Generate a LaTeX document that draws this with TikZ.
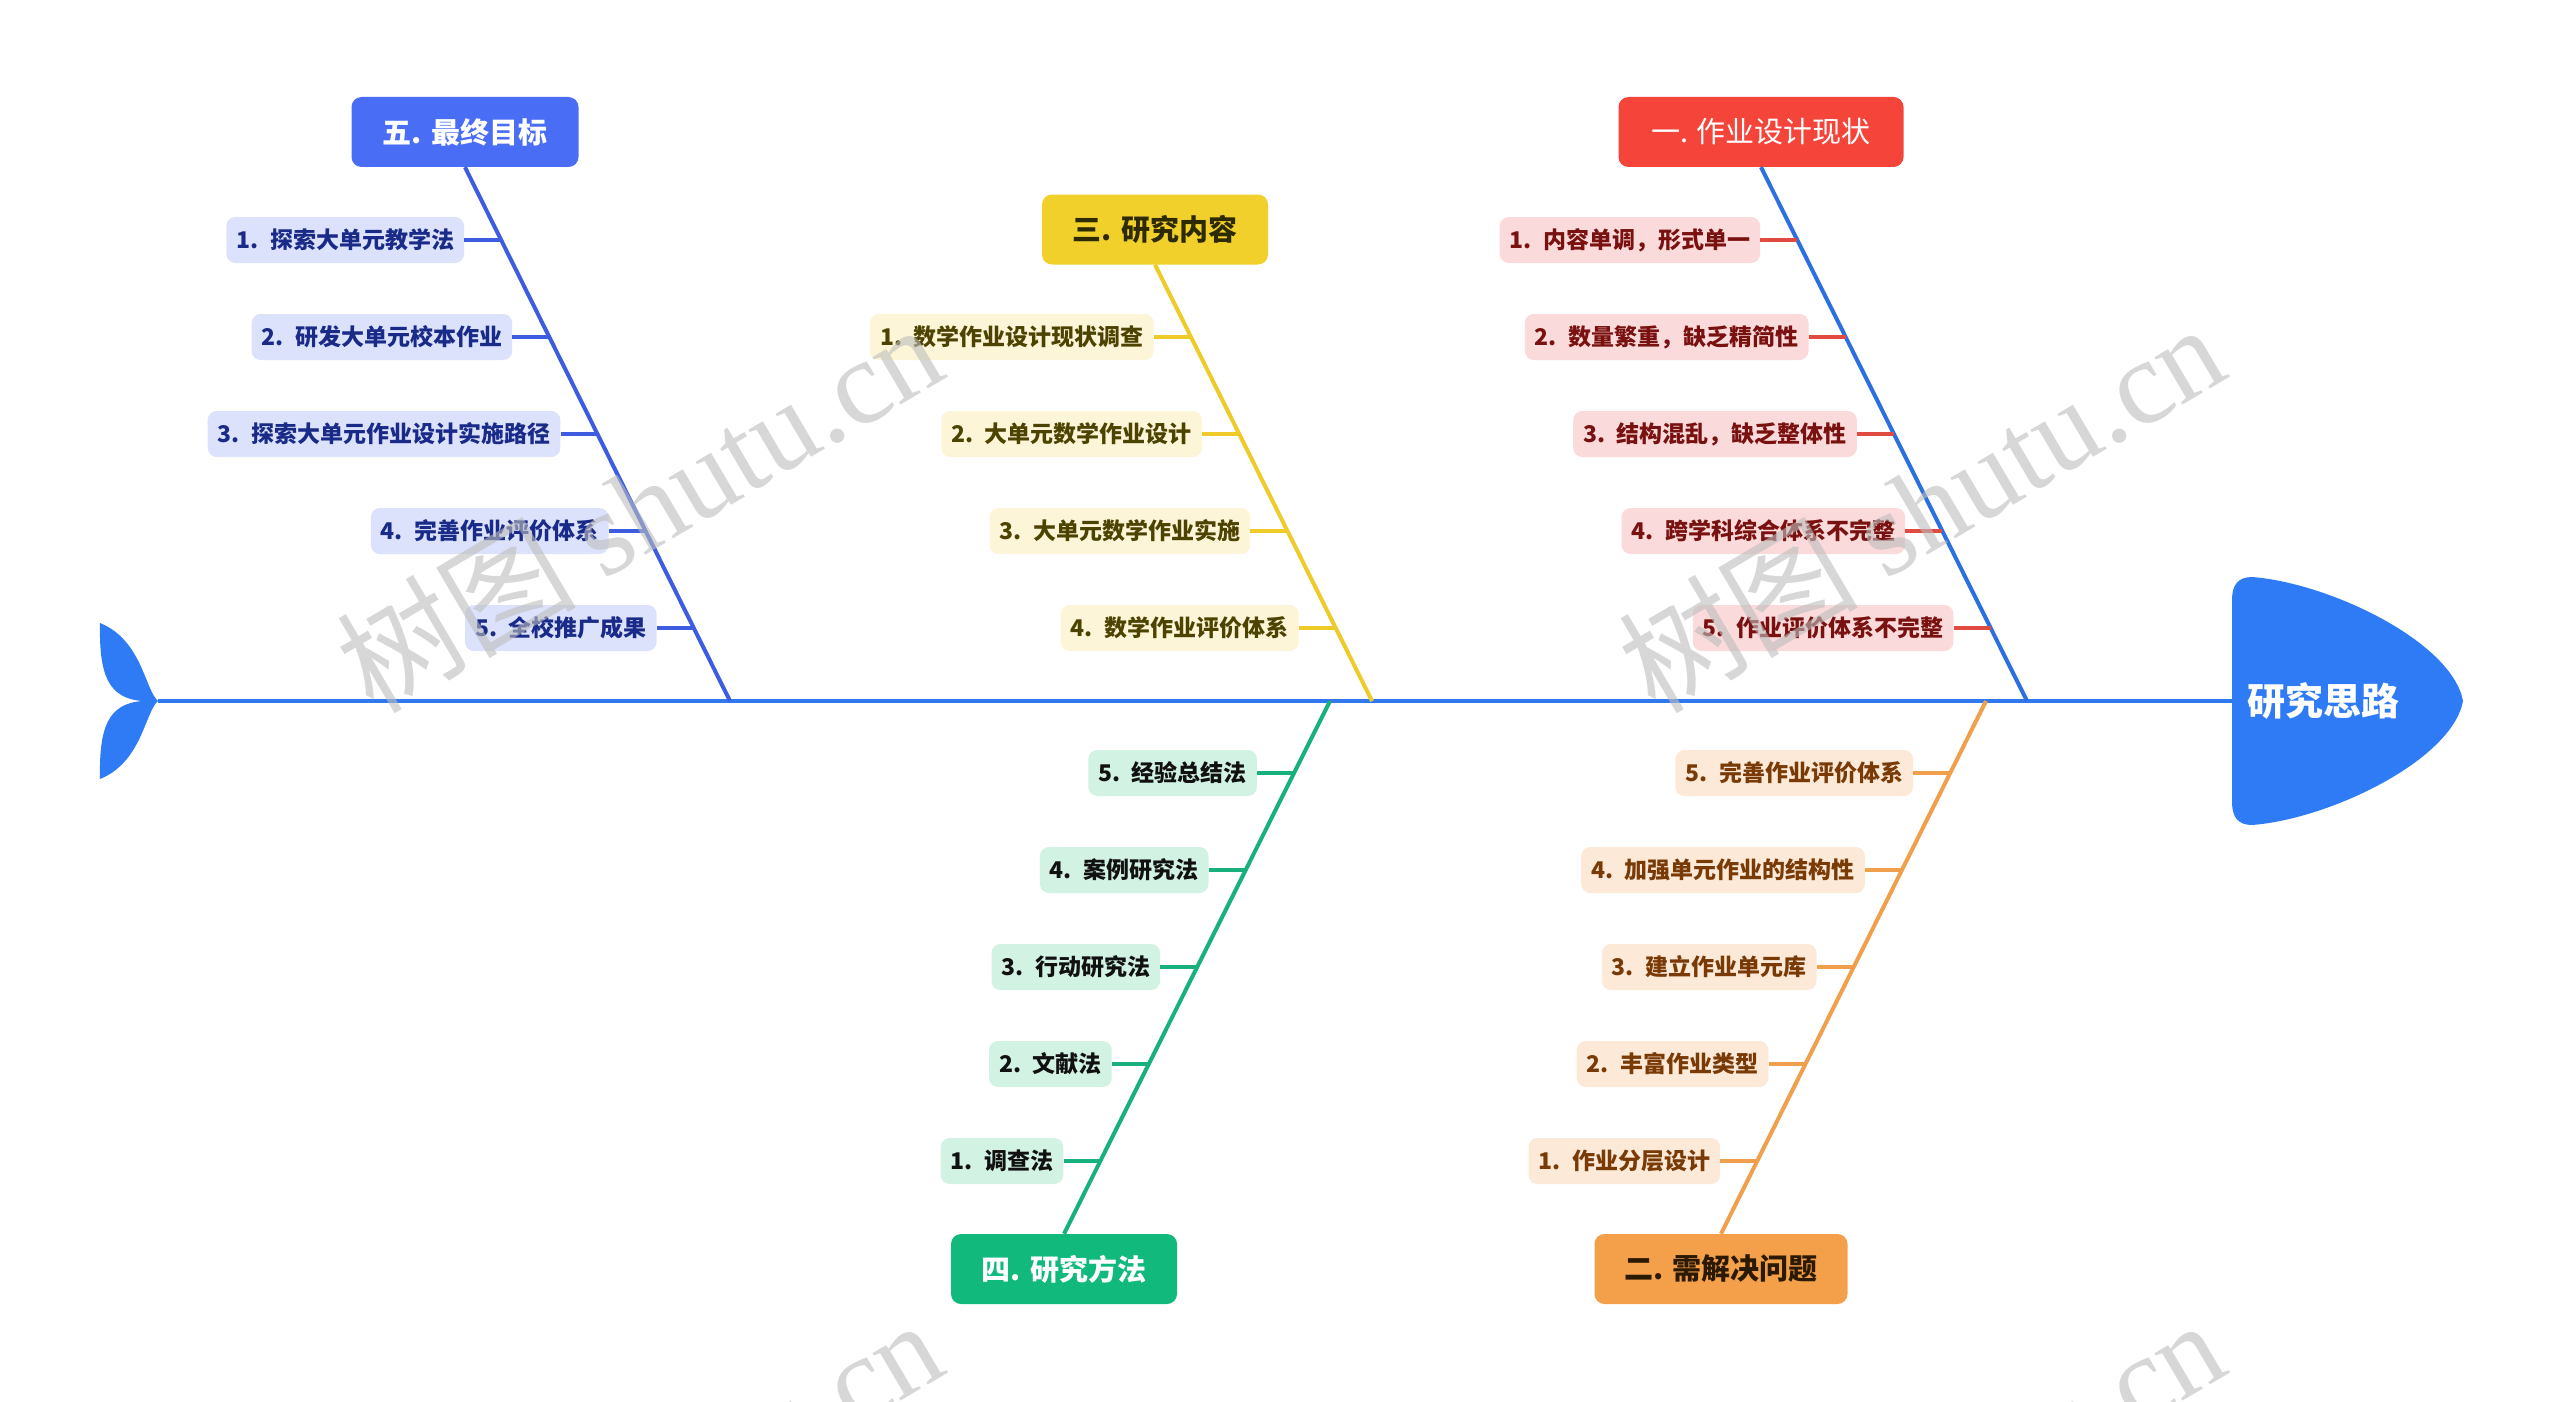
\documentclass[tikz,border=0pt]{standalone}
\usepackage{fontspec}
\setmainfont{Noto Sans CJK SC}
\newfontfamily\wmlatin{Liberation Serif}
\usetikzlibrary{calc}
\definecolor{spinec}{HTML}{2F78EE}
\definecolor{headc}{HTML}{2F7BF5}
\definecolor{blbox}{HTML}{4A6DF6}
\definecolor{blline}{HTML}{3D5CE0}
\definecolor{blsub}{HTML}{DCE2FB}
\definecolor{bltext}{HTML}{1A2A88}
\definecolor{yebox}{HTML}{F1D02B}
\definecolor{yeline}{HTML}{EFCB2A}
\definecolor{yesub}{HTML}{FCF5D8}
\definecolor{yetext}{HTML}{4D4300}
\definecolor{yemtext}{HTML}{2E2A00}
\definecolor{rdbox}{HTML}{F5453B}
\definecolor{rdline}{HTML}{2C6FE0}
\definecolor{rdstubc}{HTML}{E04A40}
\definecolor{rdsub}{HTML}{FADADA}
\definecolor{rdtext}{HTML}{7A1111}
\definecolor{grbox}{HTML}{12B97D}
\definecolor{grline}{HTML}{18B07C}
\definecolor{grsub}{HTML}{D2F2E4}
\definecolor{grtext}{HTML}{111111}
\definecolor{orbox}{HTML}{F4A04A}
\definecolor{orline}{HTML}{F0A04C}
\definecolor{orsub}{HTML}{FCE9D7}
\definecolor{ortext}{HTML}{7A3A06}
\definecolor{ormtext}{HTML}{2B1A00}
\definecolor{wmc}{HTML}{BDBDBD}
\tikzset{
  sub/.style={rounded corners=9pt, inner xsep=10pt, inner ysep=0pt, minimum height=46pt,
    font=\fontsize{23}{28}\selectfont\bfseries},
  mainbox/.style={rounded corners=10pt, inner sep=0pt, minimum height=70pt,
    font=\fontsize{29}{34}\selectfont\bfseries},
  bone/.style={line width=4pt},
  stub/.style={line width=3.5pt},
  blitem/.style={sub, fill=blsub, text=bltext}, blstub/.style={stub, draw=blline},
  yeitem/.style={sub, fill=yesub, text=yetext}, yestub/.style={stub, draw=yeline},
  rditem/.style={sub, fill=rdsub, text=rdtext}, rdstub/.style={stub, draw=rdstubc},
  gritem/.style={sub, fill=grsub, text=grtext}, grstub/.style={stub, draw=grline},
  oritem/.style={sub, fill=orsub, text=ortext}, orstub/.style={stub, draw=orline},
  wm/.style={text=wmc, opacity=0.6, inner sep=0pt, anchor=base west, rotate=30.5,
    font=\fontsize{120}{120}\selectfont},
}
\newcommand\fbitem[6]{%
  \node[#5item, anchor=east] (#1) at (#2,#3) {#6};
  \coordinate (#1d) at (#4,#3);
  \draw[#5stub] (#1.east) -- (#1d);
}
\begin{document}
\begin{tikzpicture}[x=1pt, y=-1pt]
\useasboundingbox (0,0) rectangle (2560,1402);
\clip (0,0) rectangle (2560,1402);
\fill[white] (0,0) rectangle (2560,1402);

% tail and head
\coordinate (tailJ) at (158,701);
\coordinate (headL) at (2232,701);
\fill[headc] (158,701) .. controls (145,690) and (142,640) .. (100,623)
  .. controls (99,675) and (108,698) .. (142,701)
  .. controls (108,704) and (99,727) .. (100,779)
  .. controls (142,762) and (145,712) .. (158,701) -- cycle;
\fill[headc] (2232,600) .. controls (2232,585) and (2238,577) .. (2252,577)
  .. controls (2330,583) and (2452,642) .. (2463,701)
  .. controls (2452,760) and (2330,819) .. (2252,825)
  .. controls (2238,825) and (2232,817) .. (2232,802) -- cycle;
\draw[bone, draw=spinec] (tailJ) -- (headL);
\node[text=white, font=\fontsize{38}{44}\selectfont\bfseries, inner sep=0pt] (head) at (2323,701) {研究思路};

% feet on the spine
\coordinate (f5) at (730,701);
\coordinate (f3) at (1372,701);
\coordinate (f1) at (2027,701);
\coordinate (f4) at (1330,701);
\coordinate (f2) at (1986,701);

% main boxes
\node[mainbox, fill=blbox, text=white, minimum width=227pt] (m5) at (465,132) {五. 最终目标};
\node[mainbox, fill=yebox, text=yemtext, minimum width=226pt] (m3) at (1155,229.5) {三. 研究内容};
\node[mainbox, fill=rdbox, text=white, minimum width=285pt, font=\fontsize{29}{34}\selectfont\mdseries] (m1) at (1761,132) {一. 作业设计现状};
\node[mainbox, fill=grbox, text=white, minimum width=226pt] (m4) at (1064,1269) {四. 研究方法};
\node[mainbox, fill=orbox, text=ormtext, minimum width=253pt] (m2) at (1721,1269) {二. 需解决问题};

% bones
\draw[bone, draw=blline] (m5.south) -- (f5);
\draw[bone, draw=yeline] (m3.south) -- (f3);
\draw[bone, draw=rdline] (m1.south) -- (f1);
\draw[bone, draw=grline] (m4.north) -- (f4);
\draw[bone, draw=orline] (m2.north) -- (f2);

% items: group 5 (blue)
\fbitem{b1}{464.2}{240}{501.2}{bl}{1.\hspace{0.5em}探索大单元教学法}
\fbitem{b2}{512.4}{337}{549.4}{bl}{2.\hspace{0.5em}研发大单元校本作业}
\fbitem{b3}{560.5}{434}{597.5}{bl}{3.\hspace{0.5em}探索大单元作业设计实施路径}
\fbitem{b4}{608.7}{531}{645.7}{bl}{4.\hspace{0.5em}完善作业评价体系}
\fbitem{b5}{656.8}{628}{693.8}{bl}{5.\hspace{0.5em}全校推广成果}
% group 3 (yellow)
\fbitem{y1}{1153.8}{337}{1190.8}{ye}{1.\hspace{0.5em}数学作业设计现状调查\hspace{13pt}}
\fbitem{y2}{1202.1}{434}{1239.1}{ye}{2.\hspace{0.5em}大单元数学作业设计}
\fbitem{y3}{1250.4}{531}{1287.4}{ye}{3.\hspace{0.5em}大单元数学作业实施}
\fbitem{y4}{1298.7}{628}{1335.7}{ye}{4.\hspace{0.5em}数学作业评价体系}
% group 1 (red)
\fbitem{r1}{1760.4}{240}{1797.4}{rd}{1.\hspace{0.5em}内容单调，形式单一}
\fbitem{r2}{1808.7}{337}{1845.7}{rd}{2.\hspace{0.5em}数量繁重，缺乏精简性}
\fbitem{r3}{1857.0}{434}{1894.0}{rd}{3.\hspace{0.5em}结构混乱，缺乏整体性}
\fbitem{r4}{1905.3}{531}{1942.3}{rd}{4.\hspace{0.5em}跨学科综合体系不完整}
\fbitem{r5}{1953.6}{628}{1990.6}{rd}{5.\hspace{0.5em}作业评价体系不完整}
% group 4 (green)
\fbitem{g5}{1257.1}{773}{1294.1}{gr}{5.\hspace{0.5em}经验总结法}
\fbitem{g4}{1208.7}{870}{1245.7}{gr}{4.\hspace{0.5em}案例研究法}
\fbitem{g3}{1160.3}{967}{1197.3}{gr}{3.\hspace{0.5em}行动研究法}
\fbitem{g2}{1111.9}{1064}{1148.9}{gr}{2.\hspace{0.5em}文献法}
\fbitem{g1}{1063.5}{1161}{1100.5}{gr}{1.\hspace{0.5em}调查法}
% group 2 (orange)
\fbitem{o5}{1913.2}{773}{1950.2}{or}{5.\hspace{0.5em}完善作业评价体系}
\fbitem{o4}{1865.0}{870}{1902.0}{or}{4.\hspace{0.5em}加强单元作业的结构性}
\fbitem{o3}{1816.7}{967}{1853.7}{or}{3.\hspace{0.5em}建立作业单元库}
\fbitem{o2}{1768.5}{1064}{1805.5}{or}{2.\hspace{0.5em}丰富作业类型}
\fbitem{o1}{1720.3}{1161}{1757.3}{or}{1.\hspace{0.5em}作业分层设计}

% watermarks
\node[wm] (wm1) at (373,716) {树图 {\wmlatin shutu.cn}};
\node[wm] (wm2) at (1655,716) {树图 {\wmlatin shutu.cn}};
\node[wm] (wm3) at (373,1712) {树图 {\wmlatin shutu.cn}};
\node[wm] (wm4) at (1655,1712) {树图 {\wmlatin shutu.cn}};
\end{tikzpicture}
\end{document}
